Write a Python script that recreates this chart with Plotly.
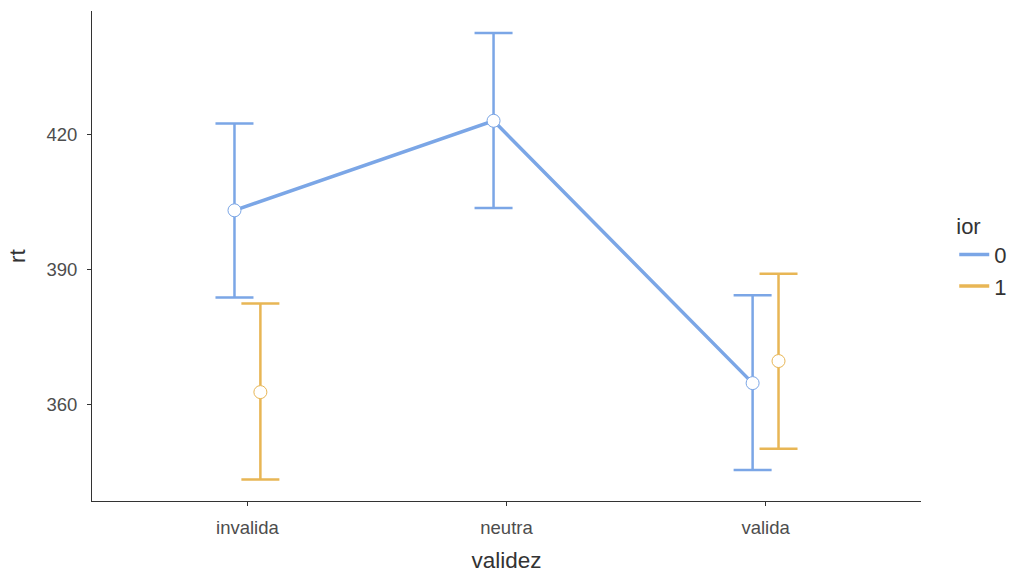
import plotly.graph_objects as go

# Response time (rt) by cue validity (validez), split by IOR condition
categories = ["invalida", "neutra", "valida"]

ior0_validez = ["invalida", "neutra", "valida"]
ior0_mean = [403.1, 423.0, 364.7]
ior0_upper = [422.4, 442.5, 384.2]
ior0_lower = [383.7, 403.6, 345.4]

ior1_validez = ["invalida", "valida"]
ior1_mean = [362.7, 369.6]
ior1_upper = [382.4, 389.0]
ior1_lower = [343.3, 350.1]

BLUE = "#7BA6E6"
ORANGE = "#E8B655"
DODGE = 0.05
FONT = "Liberation Sans, Arial, sans-serif"


def positions(labels, offset):
    return [categories.index(c) + 1 + offset for c in labels]


def add_group(fig, labels, mean, upper, lower, offset, color, connect):
    x = positions(labels, offset)
    fig.add_trace(go.Scatter(
        x=x, y=mean,
        mode="lines+markers" if connect else "markers",
        line=dict(color=color, width=3.5),
        marker=dict(size=13, color="white", line=dict(color=color, width=1)),
        error_y=dict(
            type="data", symmetric=False,
            array=[u - m for u, m in zip(upper, mean)],
            arrayminus=[m - l for m, l in zip(mean, lower)],
            color=color, thickness=2.5, width=19,
        ),
        showlegend=False, hoverinfo="skip",
    ))


fig = go.Figure()
add_group(fig, ior0_validez, ior0_mean, ior0_upper, ior0_lower, -DODGE, BLUE, True)
add_group(fig, ior1_validez, ior1_mean, ior1_upper, ior1_lower, DODGE, ORANGE, False)

# legend keys drawn as plain line segments
for name, color in [("0", BLUE), ("1", ORANGE)]:
    fig.add_trace(go.Scatter(x=[None], y=[None], mode="lines", name=name,
                             line=dict(color=color, width=3.5)))

axis_common = dict(
    showline=True, linecolor="#333333", linewidth=1,
    ticks="outside", ticklen=4, tickcolor="#333333", tickwidth=1,
    showgrid=False, zeroline=False,
    tickfont=dict(family=FONT, size=18.5, color="#4D4D4D"),
    ticklabelstandoff=6,
)

fig.update_layout(
    width=1013, height=573,
    margin=dict(l=92, r=92, t=11, b=72, autoexpand=False),
    paper_bgcolor="white", plot_bgcolor="white",
    font=dict(family=FONT, color="#333333"),
    xaxis=dict(
        **axis_common,
        range=[0.4, 3.6],
        tickvals=[1, 2, 3], ticktext=categories,
        title=dict(text="validez", font=dict(family=FONT, size=22.5, color="#333333"), standoff=17),
    ),
    yaxis=dict(
        **axis_common,
        range=[338.5, 447.4],
        tickvals=[360, 390, 420],
        title=dict(text="rt", font=dict(family=FONT, size=22.5, color="#333333"), standoff=14),
    ),
    legend=dict(
        title=dict(text="ior", font=dict(family=FONT, size=22, color="#333333")),
        font=dict(family=FONT, size=22, color="#333333"),
        xref="container", x=0.942, xanchor="left", y=0.5, yanchor="middle",
        yref="paper",
        itemwidth=30, tracegroupgap=0,
    ),
)

fig.write_html("out.html")
